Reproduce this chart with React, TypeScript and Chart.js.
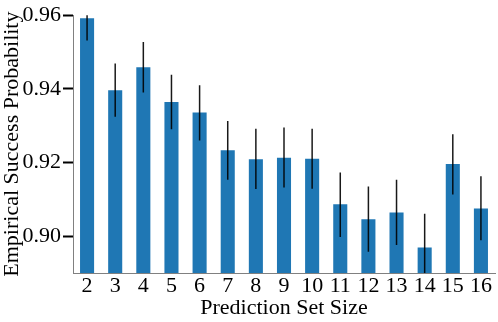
import React, { useEffect, useRef } from "react";
import { Chart, registerables } from "chart.js";

Chart.register(...registerables);

const categories = ["2", "3", "4", "5", "6", "7", "8", "9", "10", "11", "12", "13", "14", "15", "16"];
const successProb = [0.9592, 0.9396, 0.9459, 0.9364, 0.9336, 0.9233, 0.9209, 0.9213, 0.921, 0.9087, 0.9046, 0.9064, 0.8969, 0.9196, 0.9075];
const errLow = [0.9531, 0.9324, 0.939, 0.929, 0.926, 0.9153, 0.9128, 0.9132, 0.9129, 0.8998, 0.8958, 0.8976, 0.8877, 0.9113, 0.8989];
const errHigh = [0.9655, 0.9469, 0.9527, 0.9438, 0.941, 0.9313, 0.9292, 0.9295, 0.9292, 0.9173, 0.9135, 0.9153, 0.9061, 0.9277, 0.9163];
const yTicks = [0.9, 0.92, 0.94, 0.96];
const yMin = 0.89;
const yMax = 0.96;

const FONT = "'Liberation Serif', 'Times New Roman', serif";

const errorBarPlugin = {
  id: "errorBars",
  afterDatasetsDraw(chart: any) {
    const { ctx, chartArea } = chart;
    const meta = chart.getDatasetMeta(0);
    const yScale = chart.scales.y;
    ctx.save();
    ctx.beginPath();
    ctx.rect(chartArea.left, chartArea.top, chartArea.right - chartArea.left, chartArea.bottom - chartArea.top);
    ctx.clip();
    ctx.strokeStyle = "rgba(0,0,0,0.9)";
    ctx.lineWidth = 1.5;
    meta.data.forEach((bar: any, i: number) => {
      const x = bar.x;
      ctx.beginPath();
      ctx.moveTo(x, yScale.getPixelForValue(errLow[i]));
      ctx.lineTo(x, yScale.getPixelForValue(errHigh[i]));
      ctx.stroke();
    });
    ctx.restore();
  },
};

export default function App() {
  const ref = useRef<HTMLCanvasElement>(null);
  useEffect(() => {
    document.body.style.margin = "0";
    const chart = new Chart(ref.current!, {
      type: "bar",
      data: {
        labels: categories,
        datasets: [
          {
            data: successProb,
            backgroundColor: "#1f77b4",
            borderWidth: 0,
            barPercentage: 0.5,
            categoryPercentage: 1,
          },
        ],
      },
      options: {
        animation: false,
        responsive: false,
        layout: { padding: { top: 11, right: 3, left: 0, bottom: 0 } },
        plugins: { legend: { display: false }, tooltip: { enabled: false } },
        scales: {
          x: {
            grid: { display: false, drawTicks: false },
            border: { display: true, color: "#808080", width: 1 },
            ticks: { color: "#000", padding: 0, font: { family: FONT, size: 22 } },
            title: {
              display: true,
              text: "Prediction Set Size",
              color: "#000",
              font: { family: FONT, size: 22, lineHeight: 1.2 },
              padding: { top: 0, bottom: 1 },
            },
            afterFit(scale: any) {
              scale.height = 49;
            },
          },
          y: {
            min: yMin,
            max: yMax,
            afterBuildTicks(scale: any) {
              scale.ticks = yTicks.map((v) => ({ value: v }));
            },
            grid: {
              drawOnChartArea: false,
              drawTicks: true,
              tickLength: 10,
              tickColor: "#000",
              tickWidth: 2,
            },
            border: { display: true, color: "#808080", width: 1 },
            ticks: {
              color: "#000",
              padding: 2,
              font: { family: FONT, size: 22 },
              callback: (v: any) => Number(v).toFixed(2),
            },
            title: {
              display: true,
              text: "Empirical Success Probability",
              color: "#000",
              font: { family: FONT, size: 22, lineHeight: 1.1 },
              padding: { top: 0, bottom: 0 },
            },
            afterFit(scale: any) {
              scale.width = 73;
            },
          },
        },
      },
      plugins: [errorBarPlugin],
    });
    return () => chart.destroy();
  }, []);
  return (
    <div style={{ position: "fixed", left: 0, top: 0, width: 498, height: 322, background: "#fff" }}>
      <canvas ref={ref} width={498} height={322} />
    </div>
  );
}
